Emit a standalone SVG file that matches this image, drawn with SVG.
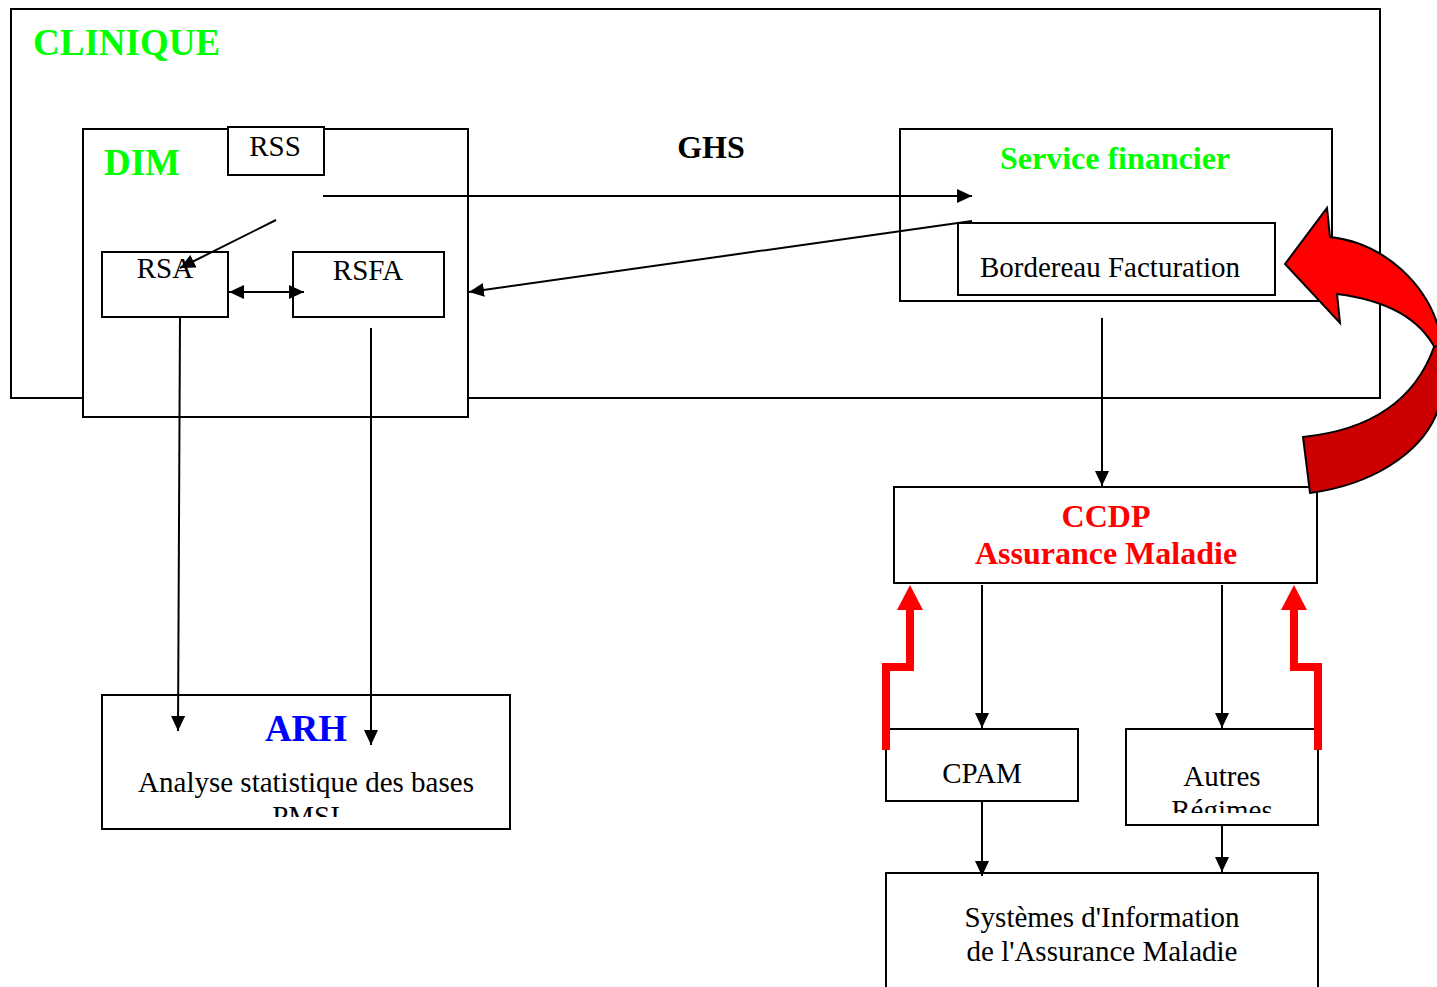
<svg xmlns="http://www.w3.org/2000/svg" width="1437" height="987" viewBox="0 0 1437 987">
<style>
.box{fill:#fff;stroke:#000;stroke-width:2}
.t{font-family:"Liberation Serif","Times New Roman",serif;font-size:29px;fill:#000}
.b{font-family:"Liberation Serif","Times New Roman",serif;font-weight:bold}
.c{text-anchor:middle}
.ln{stroke:#000;stroke-width:2;fill:none}
.red{stroke:#f00;stroke-width:8;fill:none}
</style>
<defs>
<marker id="ah" markerUnits="userSpaceOnUse" markerWidth="18" markerHeight="16" refX="15" refY="7" orient="auto-start-reverse">
<path d="M0,0 L15,7 L0,14 Z" fill="#000"/>
</marker>
<clipPath id="cpArh"><rect x="102" y="695" width="408" height="122"/></clipPath>
<clipPath id="cpAut"><rect x="1126" y="729" width="192" height="84"/></clipPath>
</defs>

<g id="clinique">
<rect class="box" x="11" y="9" width="1369" height="389"/>
<text class="b" x="33" y="55" font-size="37" fill="#00ff00">CLINIQUE</text>
</g>

<g id="dim">
<rect class="box" x="83" y="129" width="385" height="288"/>
<text class="b" x="104" y="175" font-size="37" fill="#00ff00">DIM</text>
</g>

<g id="rss">
<rect class="box" x="228" y="127" width="96" height="48"/>
<text class="t c" x="275" y="156">RSS</text>
</g>

<g id="rsa">
<rect class="box" x="102" y="252" width="126" height="65"/>
<text class="t c" x="165" y="278">RSA</text>
</g>

<g id="rsfa">
<rect class="box" x="293" y="252" width="151" height="65"/>
<text class="t c" x="368" y="280">RSFA</text>
</g>

<g id="ghs">
<text class="b c" x="711" y="158" font-size="32" fill="#000">GHS</text>
</g>

<g id="service-financier">
<rect class="box" x="900" y="129" width="432" height="172"/>
<text class="b c" x="1115" y="169" font-size="32" fill="#00ff00">Service financier</text>
</g>

<g id="bordereau">
<rect class="box" x="958" y="223" width="317" height="72"/>
<text class="t c" x="1110" y="277">Bordereau Facturation</text>
</g>

<g id="ccdp">
<rect class="box" x="894" y="487" width="423" height="96"/>
<text class="b c" x="1106" y="527" font-size="32" fill="#ff0000">CCDP</text>
<text class="b c" x="1106" y="564" font-size="32" fill="#ff0000">Assurance Maladie</text>
</g>

<g id="cpam">
<rect class="box" x="886" y="729" width="192" height="72"/>
<text class="t c" x="982" y="783">CPAM</text>
</g>

<g id="autres">
<rect class="box" x="1126" y="729" width="192" height="96"/>
<g clip-path="url(#cpAut)">
<text class="t c" x="1222" y="786">Autres</text>
<text class="t c" x="1222" y="820">Régimes</text>
</g>
</g>

<g id="arh">
<rect class="box" x="102" y="695" width="408" height="134"/>
<text class="b c" x="306" y="741" font-size="37" fill="#0000ff">ARH</text>
<g clip-path="url(#cpArh)">
<text class="t c" x="306" y="792">Analyse statistique des bases</text>
<text class="t c" x="306" y="826">PMSI</text>
</g>
</g>

<g id="sima">
<rect class="box" x="886" y="873" width="432" height="130"/>
<text class="t c" x="1102" y="927" font-size="30">Systèmes d'Information</text>
<text class="t c" x="1102" y="961">de l'Assurance Maladie</text>
</g>

<g id="connectors">
<line class="ln" x1="276" y1="220" x2="180" y2="268" marker-end="url(#ah)"/>
<line class="ln" x1="229" y1="292" x2="304" y2="292" marker-start="url(#ah)" marker-end="url(#ah)"/>
<line class="ln" x1="323" y1="196" x2="972" y2="196" marker-end="url(#ah)"/>
<line class="ln" x1="972" y1="221" x2="469" y2="292" marker-end="url(#ah)"/>
<line class="ln" x1="180" y1="317" x2="178" y2="731" marker-end="url(#ah)"/>
<line class="ln" x1="371" y1="328" x2="371" y2="745" marker-end="url(#ah)"/>
<line class="ln" x1="1102" y1="318" x2="1102" y2="486" marker-end="url(#ah)"/>
<line class="ln" x1="982" y1="585" x2="982" y2="728" marker-end="url(#ah)"/>
<line class="ln" x1="1222" y1="585" x2="1222" y2="728" marker-end="url(#ah)"/>
<line class="ln" x1="982" y1="801" x2="982" y2="876" marker-end="url(#ah)"/>
<line class="ln" x1="1222" y1="825" x2="1222" y2="872" marker-end="url(#ah)"/>
<polyline class="red" points="886,750 886,667 910,667 910,606"/>
<polygon points="897,610 923,610 910,585" fill="#f00"/>
<polyline class="red" points="1318,750 1318,667 1294,667 1294,606"/>
<polygon points="1281,610 1307,610 1294,585" fill="#f00"/>
<path d="M1285,264 L1327,208 L1330,237 C1385,243 1428,285 1440,333 L1445,352 L1436,350 C1420,318 1385,300 1337,294 L1340,323 Z" fill="#ff0000" stroke="#000" stroke-width="2" stroke-linejoin="miter"/>
<path d="M1434,347 C1415,400 1370,430 1303,437 L1310,493 C1370,485 1420,455 1437,413 L1460,340 Z" fill="#cc0000" stroke="#000" stroke-width="2"/>
</g>
</svg>
